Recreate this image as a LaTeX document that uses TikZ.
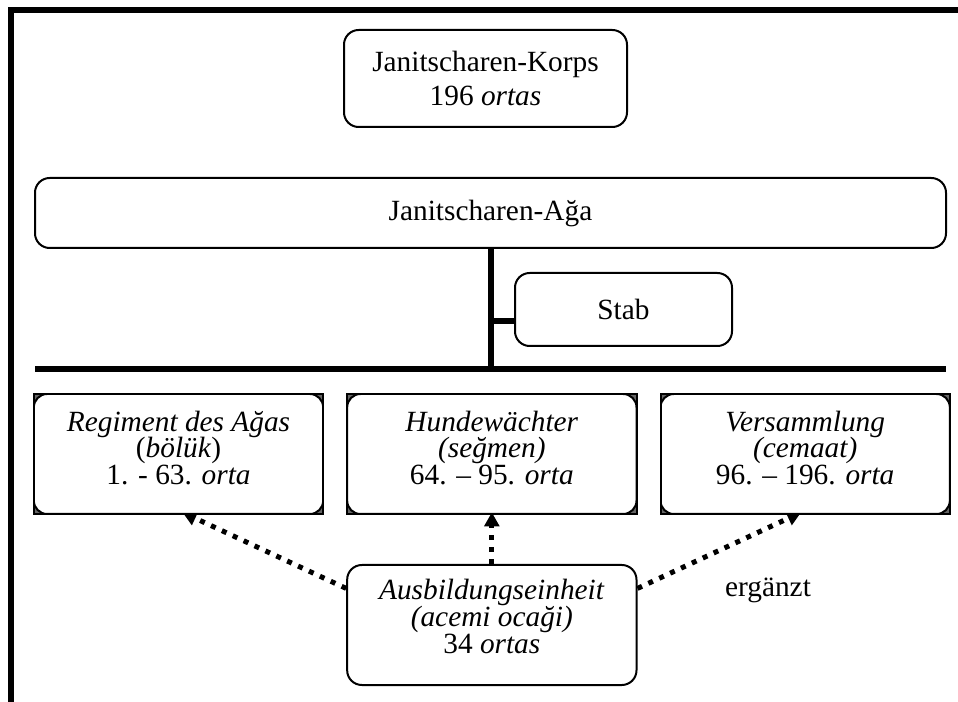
\documentclass[tikz,border=0pt]{standalone}
\usepackage{fontspec}
\setmainfont{Liberation Serif}
\usetikzlibrary{arrows.meta, positioning, calc, backgrounds}

\begin{document}
\begin{tikzpicture}[
    x=0.75pt, y=-0.75pt,
    box/.style={rectangle, draw, line width=1.5pt, rounded corners=11pt, fill=white, align=center, inner sep=0pt, font=\fontsize{22}{26}\selectfont},
    ortbox/.style={box, rounded corners=0pt, minimum width=217pt, minimum height=90pt,
        path picture={
            \fill[black!60] (path picture bounding box.south west) rectangle (path picture bounding box.north east);
            \draw[fill=white, line width=1.5pt, rounded corners=10pt] (path picture bounding box.south west) rectangle (path picture bounding box.north east);
        }},
    txt/.style={align=center, inner sep=0pt, font=\fontsize{22}{20}\selectfont},
    bus/.style={line width=4.5pt},
    feed/.style={line width=3.75pt, dash pattern=on 3.75pt off 5.25pt, -{Triangle[length=10.5pt, width=11pt]}},
    node distance=16.5pt
]
\useasboundingbox (0,0) rectangle (958,702);

% frame
\draw[line width=4.5pt] (11,702) -- (11,10) -- (958,10);

\node [box, minimum width=212.25pt, minimum height=72.75pt] (korps) at (485.5,78.5) {Janitscharen-Korps\\196 \textit{ortas}};
\node [box, minimum width=683.25pt, minimum height=52.5pt] (aga) at (490.5,213) {Janitscharen-Ağa};
\node [box, minimum width=162.75pt, minimum height=54.75pt] (stab) at (623.5,309.5) {Stab};

\node [ortbox] (reg) at (178.5,454) {};
\node [ortbox, right=of reg] (hund) {};
\node [ortbox, right=of hund] (vers) {};
\node [box, minimum width=217pt, minimum height=90pt, below=36.75pt of hund] (ausb) {};

\node [txt] (regtxt) at ([yshift=4.5pt]reg) {\textit{Regiment des Ağas}\\(\textit{bölük})\\1. - 63. \textit{orta}};
\node [txt] (hundtxt) at ([yshift=4.5pt]hund) {\textit{Hundewächter}\\\textit{(seğmen)}\\64. – 95. \textit{orta}};
\node [txt] (verstxt) at ([yshift=4.5pt]vers) {\textit{Versammlung}\\\textit{(cemaat)}\\96. – 196. \textit{orta}};
\node [txt] (ausbtxt) at ([yshift=6.5pt]ausb) {\textit{Ausbildungseinheit}\\\textit{(acemi ocaği)}\\34 \textit{ortas}};
\node [txt] (erg) at (768,590) {ergänzt};

% bus
\coordinate (barL) at (35,369);
\coordinate (barR) at (946,369);
\draw [bus] (barL) -- (barR);
\draw [bus] (aga.south) -- (aga.south |- barL);
\draw [bus] ([yshift=-9pt]stab.west) -- ([yshift=-9pt]stab.west -| aga.south);

% supply
\begin{scope}[on background layer]
\draw [feed] ($(ausb.north west)!0.2!(ausb.south west)$) -- ([xshift=3pt, yshift=2pt]reg.south);
\draw [feed] (ausb.north) -- ([yshift=2pt]hund.south);
\draw [feed] ($(ausb.north east)!0.2!(ausb.south east)$) -- ([xshift=-3pt, yshift=2pt]vers.south);
\end{scope}
\end{tikzpicture}
\end{document}
